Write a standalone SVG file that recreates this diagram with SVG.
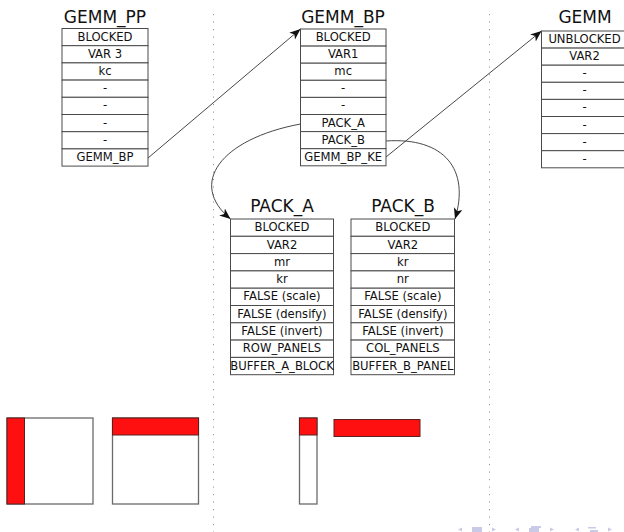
<svg xmlns="http://www.w3.org/2000/svg" width="624" height="532" viewBox="0 0 624 532">
  <style>
    .cell { fill: #ffffff; stroke: #4a4a4a; stroke-width: 1; }
    .txt { font-family: "DejaVu Sans", "Liberation Sans", sans-serif; font-size: 11.6px; fill: #111; text-anchor: middle; }
    .title { font-family: "DejaVu Sans", "Liberation Sans", sans-serif; font-size: 17px; fill: #111; text-anchor: middle; }
    .sep { stroke: #9a9a9a; stroke-width: 1; stroke-dasharray: 1.2 6.3; fill: none; }
    .link { stroke: #333; stroke-width: 0.9; fill: none; marker-end: url(#tip); }
    .box { fill: #ffffff; stroke: #6a6a6a; stroke-width: 1.3; }
    .hot { fill: #ff1010; stroke: #5a2020; stroke-width: 1; }
    .nav { fill: #c9c9e8; stroke: none; }
  </style>
  <defs>
    <marker id="tip" markerUnits="userSpaceOnUse" markerWidth="12" markerHeight="10" refX="11" refY="4.5" orient="auto">
      <path d="M0,0 L11,4.5 L0,9 L3,4.5 z" fill="#111"/>
    </marker>
  </defs>

  <rect width="624" height="532" fill="#ffffff"/>

  <!-- column separators -->
  <line class="sep" x1="213.5" y1="14" x2="213.5" y2="532"/>
  <line class="sep" x1="489.5" y1="14" x2="489.5" y2="532"/>

  <!-- connectors -->
  <g id="connectors">
    <line class="link" x1="148" y1="158" x2="300.5" y2="29"/>
    <line class="link" x1="386" y1="157" x2="541.5" y2="31"/>
    <path class="link" d="M300.5,124 C220,139 188,184 230.5,219"/>
    <path class="link" d="M386,141 C445,137 470,170 455,219"/>
  </g>

  <!-- GEMM_PP -->
  <g id="gemm_pp">
    <text class="title" x="105" y="23">GEMM_PP</text>
    <rect class="cell" x="62" y="28.5" width="86" height="17.2"/>
    <rect class="cell" x="62" y="45.7" width="86" height="17.2"/>
    <rect class="cell" x="62" y="62.9" width="86" height="17.2"/>
    <rect class="cell" x="62" y="80.1" width="86" height="17.2"/>
    <rect class="cell" x="62" y="97.3" width="86" height="17.2"/>
    <rect class="cell" x="62" y="114.5" width="86" height="17.2"/>
    <rect class="cell" x="62" y="131.7" width="86" height="17.2"/>
    <rect class="cell" x="62" y="148.9" width="86" height="17.2"/>
    <text class="txt" x="105" y="40.5">BLOCKED</text>
    <text class="txt" x="105" y="57.7">VAR 3</text>
    <text class="txt" x="105" y="74.9">kc</text>
    <text class="txt" x="105" y="92.1">-</text>
    <text class="txt" x="105" y="109.3">-</text>
    <text class="txt" x="105" y="126.5">-</text>
    <text class="txt" x="105" y="143.7">-</text>
    <text class="txt" x="105" y="160.9">GEMM_BP</text>
  </g>

  <!-- GEMM_BP -->
  <g id="gemm_bp">
    <text class="title" x="343" y="23">GEMM_BP</text>
    <rect class="cell" x="300.5" y="29" width="85.5" height="17.1"/>
    <rect class="cell" x="300.5" y="46.1" width="85.5" height="17.1"/>
    <rect class="cell" x="300.5" y="63.2" width="85.5" height="17.1"/>
    <rect class="cell" x="300.5" y="80.3" width="85.5" height="17.1"/>
    <rect class="cell" x="300.5" y="97.4" width="85.5" height="17.1"/>
    <rect class="cell" x="300.5" y="114.5" width="85.5" height="17.1"/>
    <rect class="cell" x="300.5" y="131.6" width="85.5" height="17.1"/>
    <rect class="cell" x="300.5" y="148.7" width="85.5" height="17.1"/>
    <text class="txt" x="343.2" y="41">BLOCKED</text>
    <text class="txt" x="343.2" y="58.1">VAR1</text>
    <text class="txt" x="343.2" y="75.2">mc</text>
    <text class="txt" x="343.2" y="92.3">-</text>
    <text class="txt" x="343.2" y="109.4">-</text>
    <text class="txt" x="343.2" y="126.5">PACK_A</text>
    <text class="txt" x="343.2" y="143.6">PACK_B</text>
    <text class="txt" x="343.2" y="160.7">GEMM_BP_KE</text>
  </g>

  <!-- GEMM -->
  <g id="gemm">
    <text class="title" x="585" y="23">GEMM</text>
    <rect class="cell" x="541.5" y="31" width="86" height="17.1"/>
    <rect class="cell" x="541.5" y="48.1" width="86" height="17.1"/>
    <rect class="cell" x="541.5" y="65.2" width="86" height="17.1"/>
    <rect class="cell" x="541.5" y="82.3" width="86" height="17.1"/>
    <rect class="cell" x="541.5" y="99.4" width="86" height="17.1"/>
    <rect class="cell" x="541.5" y="116.5" width="86" height="17.1"/>
    <rect class="cell" x="541.5" y="133.6" width="86" height="17.1"/>
    <rect class="cell" x="541.5" y="150.7" width="86" height="17.1"/>
    <text class="txt" x="584.5" y="43">UNBLOCKED</text>
    <text class="txt" x="584.5" y="60.1">VAR2</text>
    <text class="txt" x="584.5" y="77.2">-</text>
    <text class="txt" x="584.5" y="94.3">-</text>
    <text class="txt" x="584.5" y="111.4">-</text>
    <text class="txt" x="584.5" y="128.5">-</text>
    <text class="txt" x="584.5" y="145.6">-</text>
    <text class="txt" x="584.5" y="162.7">-</text>
  </g>

  <!-- PACK_A -->
  <g id="pack_a">
    <text class="title" x="282" y="212">PACK_A</text>
    <rect class="cell" x="230.5" y="219" width="103" height="17.3"/>
    <rect class="cell" x="230.5" y="236.3" width="103" height="17.3"/>
    <rect class="cell" x="230.5" y="253.6" width="103" height="17.3"/>
    <rect class="cell" x="230.5" y="270.9" width="103" height="17.3"/>
    <rect class="cell" x="230.5" y="288.2" width="103" height="17.3"/>
    <rect class="cell" x="230.5" y="305.5" width="103" height="17.3"/>
    <rect class="cell" x="230.5" y="322.8" width="103" height="17.3"/>
    <rect class="cell" x="230.5" y="340.1" width="103" height="17.3"/>
    <rect class="cell" x="230.5" y="357.4" width="103" height="17.3"/>
    <text class="txt" x="282" y="231.2">BLOCKED</text>
    <text class="txt" x="282" y="248.5">VAR2</text>
    <text class="txt" x="282" y="265.8">mr</text>
    <text class="txt" x="282" y="283.1">kr</text>
    <text class="txt" x="282" y="300.4">FALSE (scale)</text>
    <text class="txt" x="282" y="317.7">FALSE (densify)</text>
    <text class="txt" x="282" y="335">FALSE (invert)</text>
    <text class="txt" x="282" y="352.3">ROW_PANELS</text>
    <text class="txt" x="282" y="369.6">BUFFER_A_BLOCK</text>
  </g>

  <!-- PACK_B -->
  <g id="pack_b">
    <text class="title" x="403" y="212">PACK_B</text>
    <rect class="cell" x="351" y="219" width="103.5" height="17.3"/>
    <rect class="cell" x="351" y="236.3" width="103.5" height="17.3"/>
    <rect class="cell" x="351" y="253.6" width="103.5" height="17.3"/>
    <rect class="cell" x="351" y="270.9" width="103.5" height="17.3"/>
    <rect class="cell" x="351" y="288.2" width="103.5" height="17.3"/>
    <rect class="cell" x="351" y="305.5" width="103.5" height="17.3"/>
    <rect class="cell" x="351" y="322.8" width="103.5" height="17.3"/>
    <rect class="cell" x="351" y="340.1" width="103.5" height="17.3"/>
    <rect class="cell" x="351" y="357.4" width="103.5" height="17.3"/>
    <text class="txt" x="402.8" y="231.2">BLOCKED</text>
    <text class="txt" x="402.8" y="248.5">VAR2</text>
    <text class="txt" x="402.8" y="265.8">kr</text>
    <text class="txt" x="402.8" y="283.1">nr</text>
    <text class="txt" x="402.8" y="300.4">FALSE (scale)</text>
    <text class="txt" x="402.8" y="317.7">FALSE (densify)</text>
    <text class="txt" x="402.8" y="335">FALSE (invert)</text>
    <text class="txt" x="402.8" y="352.3">COL_PANELS</text>
    <text class="txt" x="402.8" y="369.6">BUFFER_B_PANEL</text>
  </g>

  <!-- block shapes -->
  <g id="block_a">
    <rect class="box" x="7" y="418" width="86" height="86"/>
    <rect class="hot" x="7" y="418" width="17.5" height="86"/>
  </g>
  <g id="block_b">
    <rect class="box" x="112.5" y="418" width="86" height="86"/>
    <rect class="hot" x="112.5" y="418" width="86" height="17"/>
  </g>
  <g id="panel_a">
    <rect class="box" x="299.5" y="418" width="17.5" height="86"/>
    <rect class="hot" x="299.5" y="418" width="17.5" height="17"/>
  </g>
  <g id="panel_b">
    <rect class="hot" x="334" y="419.5" width="86" height="17"/>
  </g>

  <!-- navigation symbols -->
  <g id="navigation">
    <path class="nav" d="M458,529.5 L462,527.5 L462,531.5 z"/>
    <rect class="nav" x="472" y="527" width="10" height="5"/>
    <path class="nav" d="M496,529.5 L492,527.5 L492,531.5 z"/>
    <path class="nav" d="M515,529.5 L519,527.5 L519,531.5 z"/>
    <rect class="nav" x="529" y="528" width="10" height="4"/>
    <rect class="nav" x="531" y="526" width="10" height="2"/>
    <path class="nav" d="M554,529.5 L550,527.5 L550,531.5 z"/>
    <path class="nav" d="M575,529.5 L579,527.5 L579,531.5 z"/>
    <rect class="nav" x="588" y="527" width="8" height="1.5"/>
    <rect class="nav" x="590" y="530" width="8" height="2"/>
    <path class="nav" d="M612,529.5 L608,527.5 L608,531.5 z"/>
  </g>
</svg>
